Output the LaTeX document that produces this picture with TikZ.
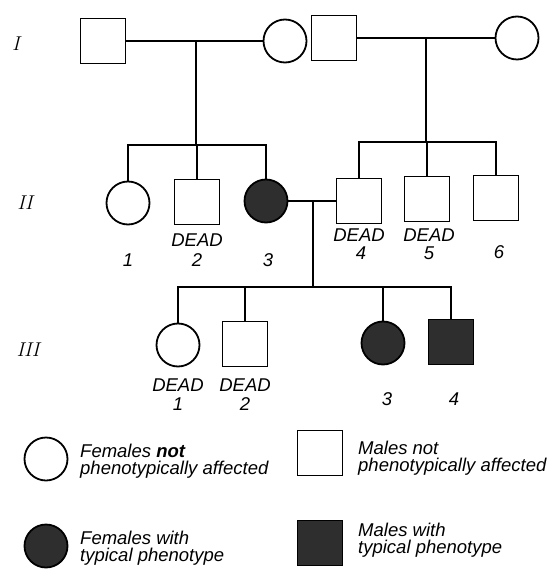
\documentclass[tikz,border=0pt]{standalone}
\usepackage{fontspec}
\setsansfont{Liberation Sans}

\tikzset{
    male/.style={draw, line width=1.8pt, minimum size=45pt, inner sep=0pt},
    female/.style={draw, circle, line width=1.8pt, minimum size=43pt, inner sep=0pt},
    affected/.style={fill=black!82},
    lbl/.style={font=\sffamily\itshape\fontsize{18.5}{17}\selectfont, inner sep=0pt},
    gen/.style={font=\itshape\fontsize{20}{20}\selectfont, inner sep=0pt},
    line/.style={line width=1.8pt},
}

\begin{document}
\begin{tikzpicture}[x=1pt, y=-1pt]
        \useasboundingbox (0,0) rectangle (552,569);
        % generation I
        \node[gen] (g1) at (16,44) {I};
        \node[male] (m1) at (103,41) {};
        \node[female] (f1) at (285,41) {};
        \node[male] (m2) at (334,38) {};
        \node[female] (f2) at (517,38) {};
        \coordinate (j1) at (196,41);
        \coordinate (j2) at (426,38);
        \coordinate (s1) at (196,145);
        \coordinate (s2) at (426,142);
        \draw[line] (m1) -- (f1);
        \draw[line] (m2) -- (f2);
        \draw[line] (j1) -- (s1);
        \draw[line] (j2) -- (s2);
        % generation II
        \node[gen] (g2) at (25,203) {II};
        \node[female] (a1) at (128,203) {};
        \node[male] (a2) at (197,202) {};
        \node[female, affected] (a3) at (266,201) {};
        \node[male] (b1) at (359,201) {};
        \node[male] (b2) at (427,199) {};
        \node[male] (b3) at (496,198) {};
        \coordinate (j3) at (313,201);
        \coordinate (s3) at (313,287);
        \draw[line] (a1.north) |- (s1 -| a3.north) -- (a3.north);
        \draw[line] (a2.north) -- (a2.north |- s1);
        \draw[line] (b1.north) |- (s2 -| b3.north) -- (b3.north);
        \draw[line] (b2.north) -- (b2.north |- s2);
        \draw[line] (a3) -- (b1);
        \draw[line] (j3) -- (s3);
        \node[lbl] (d2) at (197,240) {DEAD};
        \node[lbl] (d4) at (359,235) {DEAD};
        \node[lbl] (d5) at (429,235) {DEAD};
        \node[lbl] (n1) at (128,260) {1};
        \node[lbl] (n2) at (197,260) {2};
        \node[lbl] (n3) at (268,260) {3};
        \node[lbl] (n4) at (361,253) {4};
        \node[lbl] (n5) at (429,253) {5};
        \node[lbl] (n6) at (499,252) {6};
        % generation III
        \node[gen] (g3) at (28,350) {III};
        \node[female] (c1) at (178,345) {};
        \node[male] (c2) at (245,344) {};
        \node[female, affected] (c3) at (383,343) {};
        \node[male, affected] (c4) at (451,342) {};
        \draw[line] (c1.north) |- (s3 -| c4.north) -- (c4.north);
        \draw[line] (c2.north) -- (c2.north |- s3);
        \draw[line] (c3.north) -- (c3.north |- s3);
        \node[lbl] (d6) at (178,385) {DEAD};
        \node[lbl] (d7) at (245,385) {DEAD};
        \node[lbl] (n7) at (178,404) {1};
        \node[lbl] (n8) at (245,404) {2};
        \node[lbl] (n9) at (387,399) {3};
        \node[lbl] (n10) at (454,399) {4};
        % key
        \node[female] (kf1) at (46,459) {};
        \node[male] (km1) at (320,453) {};
        \node[female, affected] (kf2) at (46,546) {};
        \node[male, affected] (km2) at (320,543) {};
        \node[lbl, anchor=west, align=left] (tf1) at (80,461) {Females \textbf{not}\\phenotypically affected};
        \node[lbl, anchor=west, align=left] (tm1) at (358,458) {Males not\\phenotypically affected};
        \node[lbl, anchor=west, align=left] (tf2) at (80,548) {Females with\\typical phenotype};
        \node[lbl, anchor=west, align=left] (tm2) at (358,540) {Males with\\typical phenotype};
\end{tikzpicture}
\end{document}
